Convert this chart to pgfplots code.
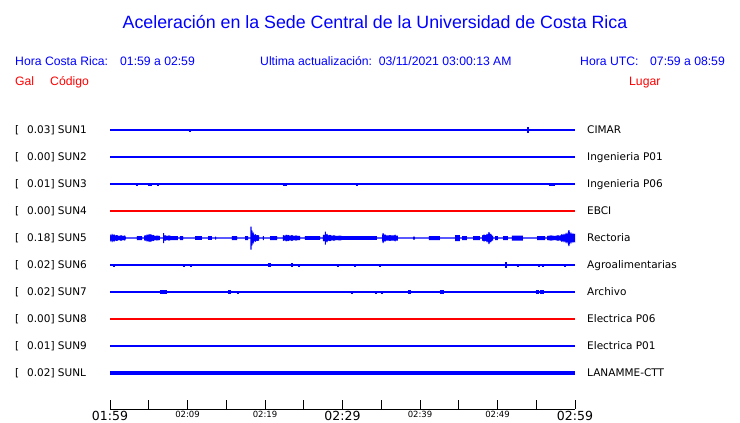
\documentclass[border=0pt]{standalone}
\usepackage{fontspec}
\setmainfont{DejaVu Sans}
\newfontfamily\arial{Liberation Sans}
\usepackage{pgfplots}
\usepackage{pgfplotstable}
\usepgfplotslibrary{fillbetween}
\pgfplotsset{compat=1.18}

% Rectoria (SUN5): envelope, t in minutes after 01:59, a = half amplitude
\pgfplotstableread{
t a
0.00 4.0
0.13 2.0
0.26 4.5
0.39 2.5
0.52 4.0
0.65 2.5
0.90 3.0
1.16 2.0
1.42 2.8
1.68 2.0
1.94 2.6
2.06 0.7
3.48 0.7
3.48 2.0
4.13 2.0
4.13 0.7
4.39 0.7
4.39 2.0
4.52 3.0
4.65 2.0
4.77 3.8
4.90 2.5
5.03 4.2
5.16 3.0
5.29 4.0
5.42 2.5
5.55 3.2
5.81 2.0
6.06 2.5
6.45 2.0
6.45 0.7
6.84 0.7
6.84 5.0
6.97 5.0
6.97 2.0
7.10 2.8
7.36 2.0
7.61 2.6
7.87 2.0
8.77 2.0
8.77 0.7
9.03 0.7
9.03 2.0
9.42 2.0
9.42 0.7
10.97 0.7
10.97 1.8
11.87 1.8
11.87 0.7
12.65 0.7
12.65 1.8
13.16 1.8
13.16 0.7
13.55 0.7
13.55 1.5
13.68 1.5
13.68 0.7
15.74 0.7
15.74 2.0
16.39 2.0
16.39 0.7
17.42 0.7
17.42 2.0
17.81 2.0
17.81 0.7
18.12 0.7
18.12 11.5
18.28 11.5
18.30 4.0
18.38 8.0
18.45 3.0
18.52 6.0
18.65 2.5
18.78 4.0
18.90 2.5
19.03 3.0
19.23 2.5
19.23 0.7
19.74 0.7
19.74 2.0
19.87 2.0
19.87 0.7
20.65 0.7
20.65 2.0
21.55 2.0
21.55 0.7
22.32 0.7
22.32 2.5
22.45 3.0
22.58 2.0
22.71 3.5
22.84 2.5
22.97 3.2
23.23 2.2
23.48 3.0
23.74 2.0
24.00 2.6
24.26 2.0
24.52 2.2
24.52 0.7
25.16 0.7
25.16 1.8
27.10 1.8
27.10 0.7
27.48 0.7
27.48 2.5
27.61 3.5
27.72 2.5
27.72 6.5
27.84 6.5
27.87 3.0
28.00 4.5
28.13 2.5
28.39 3.2
28.65 2.2
28.90 2.8
29.16 2.0
29.68 2.4
30.06 1.8
30.97 1.8
32.26 1.8
34.45 1.8
34.45 0.7
35.10 0.7
35.10 2.5
35.20 5.0
35.30 5.0
35.35 2.5
35.48 4.0
35.61 2.5
36.13 2.8
36.65 2.5
36.78 3.5
36.90 2.5
37.16 2.5
37.16 0.7
39.10 0.7
39.10 1.5
39.35 1.5
39.35 0.7
41.16 0.7
41.16 2.0
42.58 2.0
42.58 0.7
44.52 0.7
44.52 3.0
45.16 3.0
45.16 0.7
45.42 0.7
45.42 2.0
46.06 2.0
46.06 0.7
46.84 0.7
46.84 2.0
47.74 2.0
47.74 0.7
48.00 0.7
48.00 2.5
48.26 3.5
48.52 2.8
48.65 4.5
48.78 3.0
48.84 6.0
48.96 6.0
49.03 3.5
49.16 4.5
49.29 2.5
49.42 2.5
49.42 0.7
49.68 0.7
49.68 2.0
50.06 2.0
50.06 0.7
50.71 0.7
50.71 2.0
51.35 2.0
51.35 0.7
51.87 0.7
51.87 2.5
53.29 2.5
53.29 0.7
55.10 0.7
55.10 2.0
56.13 2.0
56.13 0.7
56.39 0.7
56.39 2.0
56.90 2.6
57.42 2.0
57.81 2.8
58.06 2.2
58.32 4.0
58.45 2.8
58.58 4.5
58.71 3.0
58.84 5.5
58.97 3.5
59.10 6.0
59.16 8.0
59.28 8.0
59.36 4.0
59.48 6.0
59.61 3.5
59.74 5.0
59.87 3.5
60.00 4.5
}\rect

\pgfplotstableread{
t e
10.32 1.5
22.19 1.2
53.94 3.0
}\sunone

\pgfplotstableread{
t e
3.48 1.5
5.03 1.5
5.29 1.5
6.19 1.5
22.45 1.5
22.71 1.5
31.35 1.2
31.87 1.5
56.77 1.5
57.03 1.5
57.29 1.5
57.55 1.2
}\sunthree

\pgfplotstableread{
t e
0.52 1.5
9.55 1.5
10.45 1.5
20.52 2.0
20.65 2.0
23.48 2.0
24.39 1.5
27.87 1.0
29.42 1.5
31.61 1.5
34.84 1.5
38.84 1.0
51.10 3.0
52.65 1.5
54.32 1.0
55.35 1.5
55.87 1.5
58.71 1.5
}\sunsix

\pgfplotstableread{
t e
6.58 2.0
6.71 2.0
6.84 2.0
6.97 2.0
7.23 2.0
11.48 1.0
12.77 1.0
15.35 2.0
15.48 2.0
16.52 1.5
22.97 1.0
31.23 1.5
34.32 1.5
35.10 1.5
37.29 1.0
38.58 2.0
38.71 2.0
42.71 2.0
42.97 2.0
54.19 1.0
55.10 2.0
55.23 2.0
55.61 2.0
55.74 2.0
55.87 2.0
56.52 1.0
}\sunseven

\pgfplotsset{
  spikes/.style={blue, draw=none, mark=none,
    error bars/.cd, y dir=both, y explicit, error mark=none,
    error bar style={draw=blue, line width=1.1pt}},
  base/.style={blue, line width=1.1pt},
}

\begin{document}
\begin{tikzpicture}[x=1pt,y=1pt]
\path (0,0) rectangle (740,-423);

% header
\node[font=\arial\fontsize{17.8}{18}\selectfont, text=blue] at (375,-22) {Aceleración en la Sede Central de la Universidad de Costa Rica};
\begin{scope}[every node/.style={font=\arial\fontsize{12.2}{13}\selectfont, anchor=base west, inner sep=0pt}]
\node[text=blue] at (15,-65) {Hora Costa Rica:};
\node[text=blue] at (120,-65) {01:59 a 02:59};
\node[text=blue] at (260,-65) {Ultima actualización:\ \ 03/11/2021 03:00:13 AM};
\node[text=blue] at (580,-65) {Hora UTC:};
\node[text=blue] at (650,-65) {07:59 a 08:59};
\node[text=red] at (15,-85) {Gal};
\node[text=red] at (50,-85) {Código};
\node[text=red] at (629,-85) {Lugar};
\end{scope}

% station labels
\begin{scope}[every node/.style={font=\fontsize{10.5}{11}\selectfont, anchor=base west, inner sep=0pt}]
\foreach \y/\g/\c/\l in {130/0.03/SUN1/CIMAR, 157/0.00/SUN2/Ingenieria P01, 184/0.01/SUN3/Ingenieria P06,
  211/0.00/SUN4/EBCI, 238/0.18/SUN5/Rectoria, 265/0.02/SUN6/Agroalimentarias, 292/0.02/SUN7/Archivo,
  319/0.00/SUN8/Electrica P06, 346/0.01/SUN9/Electrica P01, 373/0.02/SUNL/LANAMME-CTT}{
  \node at (15,-\y-3.8) {[};
  \node at (27,-\y-3.8) {\g] \c};
  \node at (587,-\y-3.8) {\l};
}
\end{scope}

\begin{axis}[
  at={(110pt,-409pt)}, anchor=south west,
  scale only axis, width=465pt, height=299pt,
  xmin=0, xmax=60, ymin=-409, ymax=-110,
  axis x line*=bottom, axis y line=none,
  axis line style={black, line width=0.9pt},
  xtick={0,5,...,60},
  xticklabels={
    {\fontsize{12.5}{13}\selectfont 01:59},{},
    {\fontsize{8.5}{9}\selectfont 02:09},{},
    {\fontsize{8.5}{9}\selectfont 02:19},{},
    {\fontsize{12.5}{13}\selectfont 02:29},{},
    {\fontsize{8.5}{9}\selectfont 02:39},{},
    {\fontsize{8.5}{9}\selectfont 02:49},{},
    {\fontsize{12.5}{13}\selectfont 02:59}},
  xticklabel style={anchor=north, inner sep=0pt, yshift=-2pt},
  tick align=inside, major tick length=9pt,
  tick style={black, line width=0.8pt},
  clip=false,
]
% SUN1
\addplot[base] coordinates {(0,-130) (60,-130)};
\addplot[spikes] table[x=t, y expr=-130, y error=e] {\sunone};
% SUN2
\addplot[base] coordinates {(0,-157) (60,-157)};
% SUN3
\addplot[base] coordinates {(0,-184) (60,-184)};
\addplot[spikes] table[x=t, y expr=-184, y error=e] {\sunthree};
% SUN4
\addplot[red, line width=1.1pt] coordinates {(0,-211) (60,-211)};
% SUN5
\addplot[name path=ru, draw=none] table[x=t, y expr=-238+\thisrow{a}] {\rect};
\addplot[name path=rl, draw=none] table[x=t, y expr=-238-\thisrow{a}] {\rect};
\addplot[fill=blue, draw=none] fill between[of=ru and rl, on layer=main];
% SUN6
\addplot[base] coordinates {(0,-265) (60,-265)};
\addplot[spikes] table[x=t, y expr=-265, y error=e] {\sunsix};
% SUN7
\addplot[base] coordinates {(0,-292) (60,-292)};
\addplot[spikes] table[x=t, y expr=-292, y error=e] {\sunseven};
% SUN8
\addplot[red, line width=1.1pt] coordinates {(0,-319) (60,-319)};
% SUN9
\addplot[base, line width=1.3pt] coordinates {(0,-346) (60,-346)};
% SUNL
\addplot[blue, line width=3.8pt] coordinates {(0,-373) (60,-373)};
\end{axis}
\end{tikzpicture}
\end{document}
